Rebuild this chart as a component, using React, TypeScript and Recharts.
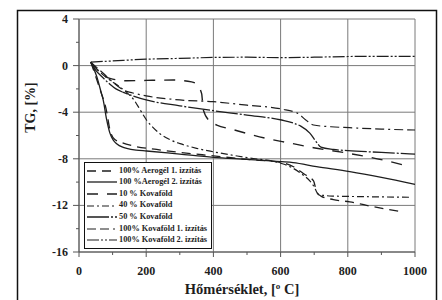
import React from "react";
import { CartesianGrid, Label, Legend, Line, LineChart, XAxis, YAxis } from "recharts";

type Pt = [number, number];

// temperature [°C] vs TG [%]
const aerogel1: Pt[] = [
  [35, 0.3], [62, -2.0], [82, -3.9], [92, -5.5], [105, -6.3], [122, -6.55], [162, -6.9],
  [231, -7.2], [300, -7.45], [400, -7.75], [500, -8.05], [603, -8.33], [640, -8.7],
  [670, -9.3], [698, -9.9], [707, -10.8], [720, -11.2], [757, -11.5], [806, -11.7],
  [856, -12.0], [960, -12.55],
];
const aerogel2: Pt[] = [
  [35, 0.3], [53, -0.95], [65, -2.2], [72, -2.95], [82, -4.6], [92, -5.8], [102, -6.4],
  [112, -6.7], [130, -7.0], [142, -7.1], [170, -7.25], [201, -7.33], [300, -7.6],
  [400, -7.87], [500, -8.05], [603, -8.25], [637, -8.33], [707, -8.67], [806, -9.1],
  [900, -9.6], [1000, -10.2],
];
const kova10: Pt[] = [
  [35, 0.3], [72, -0.8], [92, -1.1], [142, -1.3], [200, -1.27], [281, -1.24], [335, -1.4],
  [350, -1.6], [365, -2.4], [370, -3.8], [390, -4.8], [410, -5.1], [459, -5.5], [558, -6.25],
  [628, -6.65], [698, -7.05], [796, -7.5], [905, -8.1], [975, -8.6],
];
const kova40: Pt[] = [
  [35, 0.3], [60, -0.5], [90, -1.2], [120, -1.8], [142, -2.3], [165, -3.0], [182, -3.8],
  [201, -4.67], [220, -5.3], [241, -5.85], [270, -6.35], [301, -6.7], [350, -7.1],
  [400, -7.4], [500, -7.9], [603, -8.4], [630, -8.7], [658, -9.2], [687, -9.9], [700, -10.4],
  [712, -11.05], [730, -11.15], [757, -11.2], [850, -11.25], [985, -11.3],
];
const kova50: Pt[] = [
  [35, 0.3], [50, -0.4], [70, -1.0], [92, -1.6], [110, -2.0], [132, -2.3], [160, -2.6],
  [200, -2.95], [300, -3.45], [400, -3.87], [500, -4.25], [603, -4.67], [640, -4.95],
  [660, -5.2], [687, -5.8], [705, -6.5], [720, -7.0], [757, -7.2], [800, -7.3], [900, -7.45],
  [1000, -7.6],
];
const kova100first: Pt[] = [
  [35, 0.3], [72, -0.66], [100, -1.4], [132, -2.1], [160, -2.35], [200, -2.6], [300, -2.95],
  [400, -3.1], [500, -3.4], [603, -3.73], [651, -4.1], [675, -4.67], [698, -5.1], [750, -5.25],
  [805, -5.33], [900, -5.45], [1000, -5.53],
];
const kova100second: Pt[] = [
  [35, 0.3], [100, 0.4], [200, 0.55], [300, 0.62], [400, 0.7], [500, 0.72], [600, 0.68],
  [700, 0.72], [800, 0.78], [900, 0.8], [1000, 0.8],
];

const xTicks = [0, 100, 200, 300, 400, 500, 600, 700, 800, 900, 1000];
const xGrid = [0, 200, 400, 600, 800, 1000];
const yTicks = [-16, -14, -12, -10, -8, -6, -4, -2, 0, 2, 4];
const yGrid = [-16, -12, -8, -4, 0, 4];

const series = [
  { name: "100% Aerogél 1. izzítás", points: aerogel1, dash: "9 6", width: 1.3 },
  { name: "100 %Aerogél 2. izzítás", points: aerogel2, dash: undefined, width: 1.3 },
  { name: "10 % Kovaföld", points: kova10, dash: "11 9", width: 1.4 },
  { name: "40 % Kovaföld", points: kova40, dash: "7 3 2 3", width: 1.2 },
  { name: "50 % Kovaföld", points: kova50, dash: "22 2 2 2", width: 1.3 },
  { name: "100% Kovaföld 1. izzítás", points: kova100first, dash: "9 4 9 4 2 4", width: 1.2 },
  { name: "100% Kovaföld 2. izzítás", points: kova100second, dash: "12 2 2 2 2 2", width: 1.2 },
];

const FONT = "'Liberation Serif', 'Times New Roman', serif";
const INK = "#1e1e1e";

function XTick({ x, y, payload }: any) {
  const major = payload.value % 200 === 0;
  const axisY = y - 12;
  return (
    <g>
      <line x1={x} x2={x} y1={axisY} y2={axisY + (major ? 5 : 3)} stroke="#555" />
      {major && (
        <text x={x} y={y} dy={11} textAnchor="middle" fontFamily={FONT} fontWeight="bold" fontSize={12} fill={INK}>
          {payload.value}
        </text>
      )}
    </g>
  );
}

function YTick({ x, y, payload }: any) {
  const major = payload.value % 4 === 0;
  const axisX = x + 11;
  return (
    <g>
      <line x1={axisX - (major ? 6 : 3)} x2={axisX} y1={y} y2={y} stroke="#555" />
      {major && (
        <text x={x} y={y} dy={4} textAnchor="end" fontFamily={FONT} fontWeight="bold" fontSize={12} fill={INK}>
          {payload.value}
        </text>
      )}
    </g>
  );
}

function XTitle({ viewBox }: any) {
  return (
    <text
      x={viewBox.x + viewBox.width / 2 - 5}
      y={viewBox.y + 42}
      textAnchor="middle"
      fontFamily={FONT}
      fontWeight="bold"
      fontSize={14.5}
      fill={INK}
    >
      Hőmérséklet, [<tspan dy={-5} fontSize={9}>o</tspan>
      <tspan dy={5}> C]</tspan>
    </text>
  );
}

function YTitle({ viewBox }: any) {
  const cx = viewBox.x + 16;
  const cy = viewBox.y + viewBox.height * 0.38;
  return (
    <text
      x={cx}
      y={cy}
      transform={`rotate(-90 ${cx} ${cy})`}
      textAnchor="middle"
      fontFamily={FONT}
      fontWeight="bold"
      fontSize={14}
      fill={INK}
    >
      TG, [%]
    </text>
  );
}

function LegendBox() {
  return (
    <div
      style={{
        border: "1px solid #111",
        background: "#fff",
        padding: "2px 2px",
        boxSizing: "border-box",
        width: 128,
      }}
    >
      {series.map((s) => (
        <div key={s.name} style={{ display: "flex", alignItems: "center", height: 11.6 }}>
          <svg width={30} height={6} style={{ flexShrink: 0 }}>
            <line x1={0} x2={30} y1={3} y2={3} stroke={INK} strokeWidth={s.width} strokeDasharray={s.dash} />
          </svg>
          <span
            style={{
              marginLeft: 2,
              fontFamily: FONT,
              fontWeight: "bold",
              fontSize: 8.3,
              color: INK,
              whiteSpace: "nowrap",
              lineHeight: 1,
            }}
          >
            {s.name}
          </span>
        </div>
      ))}
    </div>
  );
}

export default function App() {
  return (
    <div style={{ position: "absolute", left: 0, top: 0, width: 442, height: 300, background: "#fff", overflow: "hidden" }}>
      <LineChart width={442} height={300} margin={{ top: 19, right: 27, bottom: 0, left: 19 }}>
        <CartesianGrid
          stroke="#7a7a7a"
          strokeWidth={1}
          verticalValues={xGrid}
          horizontalValues={yGrid}
        />
        <XAxis
          type="number"
          dataKey="t"
          domain={[0, 1000]}
          ticks={xTicks}
          interval={0}
          height={48}
          tickSize={4}
          tickMargin={8}
          tickLine={{ stroke: "none" }}
          axisLine={{ stroke: "#555" }}
          tick={<XTick />}
        >
          <Label content={<XTitle />} />
        </XAxis>
        <YAxis
          type="number"
          domain={[-16, 4]}
          ticks={yTicks}
          interval={0}
          width={60}
          tickSize={6}
          tickMargin={5}
          tickLine={{ stroke: "none" }}
          axisLine={{ stroke: "#555" }}
          tick={<YTick />}
        >
          <Label content={<YTitle />} />
        </YAxis>
        <Legend
          layout="vertical"
          align="center"
          verticalAlign="middle"
          wrapperStyle={{ left: 84, top: 162, width: 128 }}
          content={<LegendBox />}
        />
        {series.map((s) => (
          <Line
            key={s.name}
            name={s.name}
            data={s.points.map(([t, v]) => ({ t, v }))}
            dataKey="v"
            type="monotone"
            stroke={INK}
            strokeWidth={s.width}
            strokeDasharray={s.dash}
            dot={false}
            activeDot={false}
            isAnimationActive={false}
          />
        ))}
      </LineChart>
      <svg
        width={442}
        height={300}
        style={{ position: "absolute", left: 0, top: 0, pointerEvents: "none" }}
      >
        <rect x={17.5} y={10.5} width={419} height={310} fill="none" stroke="#111" strokeWidth={1.5} />
      </svg>
    </div>
  );
}
